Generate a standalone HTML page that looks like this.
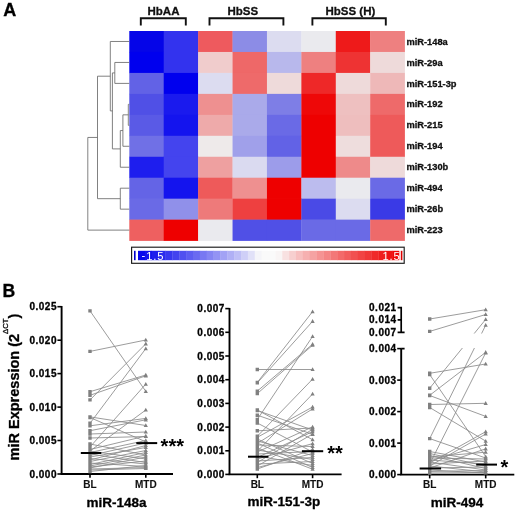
<!DOCTYPE html>
<html><head><meta charset="utf-8"><style>
html,body{margin:0;padding:0;background:#fff;}
svg{display:block;font-family:"Liberation Sans", sans-serif;will-change:transform;filter:blur(0.3px);}
</style></head><body>
<svg width="520" height="516" viewBox="0 0 520 516">
<rect width="520" height="516" fill="#fff"/>
<rect x="129.30" y="31.00" width="34.71" height="21.26" fill="#0505E8"/>
<rect x="163.71" y="31.00" width="34.71" height="21.26" fill="#3333EE"/>
<rect x="198.12" y="31.00" width="34.71" height="21.26" fill="#EE5A5E"/>
<rect x="232.54" y="31.00" width="34.71" height="21.26" fill="#8C8CE6"/>
<rect x="266.95" y="31.00" width="34.71" height="21.26" fill="#DCDCF0"/>
<rect x="301.36" y="31.00" width="34.71" height="21.26" fill="#EAEAEE"/>
<rect x="335.78" y="31.00" width="34.71" height="21.26" fill="#EE1A1A"/>
<rect x="370.19" y="31.00" width="34.71" height="21.26" fill="#EE8080"/>
<rect x="129.30" y="51.96" width="34.71" height="21.26" fill="#0000EE"/>
<rect x="163.71" y="51.96" width="34.71" height="21.26" fill="#3333EE"/>
<rect x="198.12" y="51.96" width="34.71" height="21.26" fill="#F0CCCC"/>
<rect x="232.54" y="51.96" width="34.71" height="21.26" fill="#EE6868"/>
<rect x="266.95" y="51.96" width="34.71" height="21.26" fill="#B8B8EC"/>
<rect x="301.36" y="51.96" width="34.71" height="21.26" fill="#EE8080"/>
<rect x="335.78" y="51.96" width="34.71" height="21.26" fill="#EE3333"/>
<rect x="370.19" y="51.96" width="34.71" height="21.26" fill="#EEDADA"/>
<rect x="129.30" y="72.92" width="34.71" height="21.26" fill="#6262E6"/>
<rect x="163.71" y="72.92" width="34.71" height="21.26" fill="#0000EE"/>
<rect x="198.12" y="72.92" width="34.71" height="21.26" fill="#DCDCF0"/>
<rect x="232.54" y="72.92" width="34.71" height="21.26" fill="#EE6A6A"/>
<rect x="266.95" y="72.92" width="34.71" height="21.26" fill="#EEDADA"/>
<rect x="301.36" y="72.92" width="34.71" height="21.26" fill="#EE2828"/>
<rect x="335.78" y="72.92" width="34.71" height="21.26" fill="#EEDADA"/>
<rect x="370.19" y="72.92" width="34.71" height="21.26" fill="#EEB8B8"/>
<rect x="129.30" y="93.88" width="34.71" height="21.26" fill="#5050E6"/>
<rect x="163.71" y="93.88" width="34.71" height="21.26" fill="#1A1AEE"/>
<rect x="198.12" y="93.88" width="34.71" height="21.26" fill="#EE9090"/>
<rect x="232.54" y="93.88" width="34.71" height="21.26" fill="#AAAAEA"/>
<rect x="266.95" y="93.88" width="34.71" height="21.26" fill="#7E7EE6"/>
<rect x="301.36" y="93.88" width="34.71" height="21.26" fill="#EE0808"/>
<rect x="335.78" y="93.88" width="34.71" height="21.26" fill="#EEC0C0"/>
<rect x="370.19" y="93.88" width="34.71" height="21.26" fill="#EE6A6A"/>
<rect x="129.30" y="114.84" width="34.71" height="21.26" fill="#5A5AE6"/>
<rect x="163.71" y="114.84" width="34.71" height="21.26" fill="#1414EE"/>
<rect x="198.12" y="114.84" width="34.71" height="21.26" fill="#EEAAAA"/>
<rect x="232.54" y="114.84" width="34.71" height="21.26" fill="#AAAAEA"/>
<rect x="266.95" y="114.84" width="34.71" height="21.26" fill="#6A6AE6"/>
<rect x="301.36" y="114.84" width="34.71" height="21.26" fill="#EE0000"/>
<rect x="335.78" y="114.84" width="34.71" height="21.26" fill="#EEBEBE"/>
<rect x="370.19" y="114.84" width="34.71" height="21.26" fill="#EE5A5A"/>
<rect x="129.30" y="135.80" width="34.71" height="21.26" fill="#7070E6"/>
<rect x="163.71" y="135.80" width="34.71" height="21.26" fill="#4444EE"/>
<rect x="198.12" y="135.80" width="34.71" height="21.26" fill="#EEEAEA"/>
<rect x="232.54" y="135.80" width="34.71" height="21.26" fill="#A0A0EA"/>
<rect x="266.95" y="135.80" width="34.71" height="21.26" fill="#6262E6"/>
<rect x="301.36" y="135.80" width="34.71" height="21.26" fill="#EE0000"/>
<rect x="335.78" y="135.80" width="34.71" height="21.26" fill="#EEDDDD"/>
<rect x="370.19" y="135.80" width="34.71" height="21.26" fill="#EE5A5A"/>
<rect x="129.30" y="156.76" width="34.71" height="21.26" fill="#1E1EEE"/>
<rect x="163.71" y="156.76" width="34.71" height="21.26" fill="#4444EE"/>
<rect x="198.12" y="156.76" width="34.71" height="21.26" fill="#EEA0A0"/>
<rect x="232.54" y="156.76" width="34.71" height="21.26" fill="#DADAF0"/>
<rect x="266.95" y="156.76" width="34.71" height="21.26" fill="#9C9CEA"/>
<rect x="301.36" y="156.76" width="34.71" height="21.26" fill="#EE0000"/>
<rect x="335.78" y="156.76" width="34.71" height="21.26" fill="#EE8A8A"/>
<rect x="370.19" y="156.76" width="34.71" height="21.26" fill="#EEDADA"/>
<rect x="129.30" y="177.72" width="34.71" height="21.26" fill="#6464E6"/>
<rect x="163.71" y="177.72" width="34.71" height="21.26" fill="#1414EE"/>
<rect x="198.12" y="177.72" width="34.71" height="21.26" fill="#EE5A5A"/>
<rect x="232.54" y="177.72" width="34.71" height="21.26" fill="#EE9090"/>
<rect x="266.95" y="177.72" width="34.71" height="21.26" fill="#EE0000"/>
<rect x="301.36" y="177.72" width="34.71" height="21.26" fill="#BCBCEE"/>
<rect x="335.78" y="177.72" width="34.71" height="21.26" fill="#EAEAEE"/>
<rect x="370.19" y="177.72" width="34.71" height="21.26" fill="#6A6AE6"/>
<rect x="129.30" y="198.68" width="34.71" height="21.26" fill="#6A6AE6"/>
<rect x="163.71" y="198.68" width="34.71" height="21.26" fill="#9090EA"/>
<rect x="198.12" y="198.68" width="34.71" height="21.26" fill="#EE7A7A"/>
<rect x="232.54" y="198.68" width="34.71" height="21.26" fill="#EE4040"/>
<rect x="266.95" y="198.68" width="34.71" height="21.26" fill="#EE0000"/>
<rect x="301.36" y="198.68" width="34.71" height="21.26" fill="#4A4AE6"/>
<rect x="335.78" y="198.68" width="34.71" height="21.26" fill="#DCDCF0"/>
<rect x="370.19" y="198.68" width="34.71" height="21.26" fill="#3A3AE6"/>
<rect x="129.30" y="219.64" width="34.71" height="21.26" fill="#EE6060"/>
<rect x="163.71" y="219.64" width="34.71" height="21.26" fill="#EE0000"/>
<rect x="198.12" y="219.64" width="34.71" height="21.26" fill="#EAEAEE"/>
<rect x="232.54" y="219.64" width="34.71" height="21.26" fill="#5050E6"/>
<rect x="266.95" y="219.64" width="34.71" height="21.26" fill="#5050E6"/>
<rect x="301.36" y="219.64" width="34.71" height="21.26" fill="#6A6AE6"/>
<rect x="335.78" y="219.64" width="34.71" height="21.26" fill="#6A6AE6"/>
<rect x="370.19" y="219.64" width="34.71" height="21.26" fill="#EE6A6A"/>
<text x="406.4" y="44.58" font-size="9.3" font-weight="bold" fill="#111" stroke="#111" stroke-width="0.3">miR-148a</text>
<text x="406.4" y="65.54" font-size="9.3" font-weight="bold" fill="#111" stroke="#111" stroke-width="0.3">miR-29a</text>
<text x="406.4" y="86.50" font-size="9.3" font-weight="bold" fill="#111" stroke="#111" stroke-width="0.3">miR-151-3p</text>
<text x="406.4" y="107.46" font-size="9.3" font-weight="bold" fill="#111" stroke="#111" stroke-width="0.3">miR-192</text>
<text x="406.4" y="128.42" font-size="9.3" font-weight="bold" fill="#111" stroke="#111" stroke-width="0.3">miR-215</text>
<text x="406.4" y="149.38" font-size="9.3" font-weight="bold" fill="#111" stroke="#111" stroke-width="0.3">miR-194</text>
<text x="406.4" y="170.34" font-size="9.3" font-weight="bold" fill="#111" stroke="#111" stroke-width="0.3">miR-130b</text>
<text x="406.4" y="191.30" font-size="9.3" font-weight="bold" fill="#111" stroke="#111" stroke-width="0.3">miR-494</text>
<text x="406.4" y="212.26" font-size="9.3" font-weight="bold" fill="#111" stroke="#111" stroke-width="0.3">miR-26b</text>
<text x="406.4" y="233.22" font-size="9.3" font-weight="bold" fill="#111" stroke="#111" stroke-width="0.3">miR-223</text>
<path d="M110.30 41.48L129.30 41.48 M114.80 62.44L129.30 62.44 M114.80 83.40L129.30 83.40 M114.80 62.44L114.80 83.40 M128.30 104.36L129.30 104.36 M128.30 125.32L129.30 125.32 M128.30 104.36L128.30 125.32 M122.90 114.84L128.30 114.84 M122.90 146.28L129.30 146.28 M122.90 114.84L122.90 146.28 M120.30 130.56L122.90 130.56 M120.30 167.24L129.30 167.24 M120.30 130.56L120.30 167.24 M112.40 72.92L114.80 72.92 M112.40 148.90L120.30 148.90 M112.40 72.92L112.40 148.90 M110.30 110.91L112.40 110.91 M110.30 41.48L110.30 110.91 M120.30 188.20L129.30 188.20 M120.30 209.16L129.30 209.16 M120.30 188.20L120.30 209.16 M97.50 76.19L110.30 76.19 M97.50 198.68L120.30 198.68 M97.50 76.19L97.50 198.68 M87.80 137.44L97.50 137.44 M87.80 230.12L129.30 230.12 M87.80 137.44L87.80 230.12" stroke="#6a6a6a" stroke-width="0.85" fill="none"/>
<path d="M140.8 25.4 V18.2 H185.8 V25.4" stroke="#111" stroke-width="1.9" fill="none"/>
<text x="163.5" y="15" font-size="11.5" font-weight="bold" fill="#111" text-anchor="middle" stroke="#111" stroke-width="0.3">HbAA</text>
<path d="M209.5 25.4 V18.2 H283.4 V25.4" stroke="#111" stroke-width="1.9" fill="none"/>
<text x="242.8" y="15" font-size="11.5" font-weight="bold" fill="#111" text-anchor="middle" stroke="#111" stroke-width="0.3">HbSS</text>
<path d="M312.4 25.4 V18.2 H385.8 V25.4" stroke="#111" stroke-width="1.9" fill="none"/>
<text x="350.4" y="15" font-size="11.5" font-weight="bold" fill="#111" text-anchor="middle" stroke="#111" stroke-width="0.3">HbSS (H)</text>
<text x="3.2" y="16.2" font-size="18" font-weight="bold" fill="#000" stroke="#000" stroke-width="0.3">A</text>
<text x="2.6" y="297.3" font-size="17.6" font-weight="bold" fill="#000" stroke="#000" stroke-width="0.3">B</text>
<rect x="131.6" y="247.2" width="272.6" height="16.1" fill="#fff" stroke="#1a1a1a" stroke-width="1.15"/>
<rect x="138.00" y="250.8" width="7.17" height="9.4" fill="rgb(6, 6, 236)"/>
<rect x="144.87" y="250.8" width="7.17" height="9.4" fill="rgb(18, 18, 237)"/>
<rect x="151.74" y="250.8" width="7.17" height="9.4" fill="rgb(30, 30, 237)"/>
<rect x="158.61" y="250.8" width="7.17" height="9.4" fill="rgb(42, 42, 238)"/>
<rect x="165.47" y="250.8" width="7.17" height="9.4" fill="rgb(55, 55, 239)"/>
<rect x="172.34" y="250.8" width="7.17" height="9.4" fill="rgb(67, 67, 239)"/>
<rect x="179.21" y="250.8" width="7.17" height="9.4" fill="rgb(80, 80, 240)"/>
<rect x="186.08" y="250.8" width="7.17" height="9.4" fill="rgb(93, 93, 241)"/>
<rect x="192.95" y="250.8" width="7.17" height="9.4" fill="rgb(106, 106, 241)"/>
<rect x="199.82" y="250.8" width="7.17" height="9.4" fill="rgb(120, 120, 242)"/>
<rect x="206.68" y="250.8" width="7.17" height="9.4" fill="rgb(133, 133, 243)"/>
<rect x="213.55" y="250.8" width="7.17" height="9.4" fill="rgb(147, 147, 244)"/>
<rect x="220.42" y="250.8" width="7.17" height="9.4" fill="rgb(162, 162, 245)"/>
<rect x="227.29" y="250.8" width="7.17" height="9.4" fill="rgb(176, 176, 245)"/>
<rect x="234.16" y="250.8" width="7.17" height="9.4" fill="rgb(191, 191, 246)"/>
<rect x="241.03" y="250.8" width="7.17" height="9.4" fill="rgb(207, 207, 247)"/>
<rect x="247.89" y="250.8" width="7.17" height="9.4" fill="rgb(225, 225, 248)"/>
<rect x="254.76" y="250.8" width="7.17" height="9.4" fill="rgb(245, 245, 249)"/>
<rect x="261.63" y="250.8" width="7.17" height="9.4" fill="rgb(250, 250, 250)"/>
<rect x="268.50" y="250.8" width="7.17" height="9.4" fill="rgb(250, 250, 250)"/>
<rect x="275.37" y="250.8" width="7.17" height="9.4" fill="rgb(249, 245, 245)"/>
<rect x="282.24" y="250.8" width="7.17" height="9.4" fill="rgb(248, 225, 225)"/>
<rect x="289.11" y="250.8" width="7.17" height="9.4" fill="rgb(247, 207, 207)"/>
<rect x="295.97" y="250.8" width="7.17" height="9.4" fill="rgb(247, 191, 191)"/>
<rect x="302.84" y="250.8" width="7.17" height="9.4" fill="rgb(246, 176, 176)"/>
<rect x="309.71" y="250.8" width="7.17" height="9.4" fill="rgb(245, 162, 162)"/>
<rect x="316.58" y="250.8" width="7.17" height="9.4" fill="rgb(245, 147, 147)"/>
<rect x="323.45" y="250.8" width="7.17" height="9.4" fill="rgb(244, 133, 133)"/>
<rect x="330.32" y="250.8" width="7.17" height="9.4" fill="rgb(243, 120, 120)"/>
<rect x="337.18" y="250.8" width="7.17" height="9.4" fill="rgb(243, 106, 106)"/>
<rect x="344.05" y="250.8" width="7.17" height="9.4" fill="rgb(242, 93, 93)"/>
<rect x="350.92" y="250.8" width="7.17" height="9.4" fill="rgb(241, 80, 80)"/>
<rect x="357.79" y="250.8" width="7.17" height="9.4" fill="rgb(241, 67, 67)"/>
<rect x="364.66" y="250.8" width="7.17" height="9.4" fill="rgb(240, 55, 55)"/>
<rect x="371.53" y="250.8" width="7.17" height="9.4" fill="rgb(240, 42, 42)"/>
<rect x="378.39" y="250.8" width="7.17" height="9.4" fill="rgb(239, 30, 30)"/>
<rect x="385.26" y="250.8" width="7.17" height="9.4" fill="rgb(238, 18, 18)"/>
<rect x="392.13" y="250.8" width="7.17" height="9.4" fill="rgb(238, 6, 6)"/>
<rect x="134.0" y="250.8" width="1.6" height="9.4" fill="#0000cc"/>
<rect x="400.8" y="250.8" width="1.6" height="9.4" fill="#dd0000"/>
<text x="141.6" y="259.8" font-size="11.2" fill="#fff" stroke="none" letter-spacing="0.9"><tspan dy="-0.9">-</tspan><tspan dy="0.9">1.5</tspan></text>
<text x="382.4" y="259.8" font-size="11.2" fill="#fff" stroke="none" letter-spacing="0.9">1.5</text>
<path d="M61.6 306.0 V474.0" stroke="#000" stroke-width="1.9" fill="none"/>
<path d="M57.4 306.7 H61.6" stroke="#000" stroke-width="1.6"/>
<text x="57.0" y="310.20" font-size="10" letter-spacing="0.5" font-weight="bold" text-anchor="end" fill="#000" stroke="#000" stroke-width="0.3">0.025</text>
<path d="M57.4 340.2 H61.6" stroke="#000" stroke-width="1.6"/>
<text x="57.0" y="343.70" font-size="10" letter-spacing="0.5" font-weight="bold" text-anchor="end" fill="#000" stroke="#000" stroke-width="0.3">0.020</text>
<path d="M57.4 373.6 H61.6" stroke="#000" stroke-width="1.6"/>
<text x="57.0" y="377.10" font-size="10" letter-spacing="0.5" font-weight="bold" text-anchor="end" fill="#000" stroke="#000" stroke-width="0.3">0.015</text>
<path d="M57.4 407.1 H61.6" stroke="#000" stroke-width="1.6"/>
<text x="57.0" y="410.60" font-size="10" letter-spacing="0.5" font-weight="bold" text-anchor="end" fill="#000" stroke="#000" stroke-width="0.3">0.010</text>
<path d="M57.4 440.5 H61.6" stroke="#000" stroke-width="1.6"/>
<text x="57.0" y="444.00" font-size="10" letter-spacing="0.5" font-weight="bold" text-anchor="end" fill="#000" stroke="#000" stroke-width="0.3">0.005</text>
<path d="M57.4 474.0 H61.6" stroke="#000" stroke-width="1.6"/>
<text x="57.0" y="477.50" font-size="10" letter-spacing="0.5" font-weight="bold" text-anchor="end" fill="#000" stroke="#000" stroke-width="0.3">0.000</text>
<path d="M60.65 474.0 H173.0" stroke="#000" stroke-width="1.9" fill="none"/>
<path d="M90.0 474.0 V477.8" stroke="#000" stroke-width="1.6"/>
<path d="M145.8 474.0 V477.8" stroke="#000" stroke-width="1.6"/>
<text x="90.0" y="488" font-size="10" font-weight="bold" text-anchor="middle" fill="#111" stroke="#111" stroke-width="0.12">BL</text>
<text x="145.8" y="488" font-size="10" font-weight="bold" text-anchor="middle" fill="#111" stroke="#111" stroke-width="0.12">MTD</text>
<path d="M90.0 310.9L145.8 391.4 M90.0 351.4L145.8 340.0 M90.0 391.7L145.8 375.0 M90.0 395.3L145.8 375.8 M90.0 399.9L145.8 343.8 M90.0 423.3L145.8 348.6 M90.0 447.0L145.8 384.1 M90.0 416.9L145.8 425.5 M90.0 417.5L145.8 441.8 M90.0 425.8L145.8 418.4 M90.0 430.7L145.8 419.8 M90.0 451.0L145.8 410.0 M90.0 434.0L145.8 432.0 M90.0 438.0L145.8 436.5 M90.0 444.0L145.8 455.0 M90.0 449.5L145.8 436.0 M90.0 451.0L145.8 459.0 M90.0 452.5L145.8 440.5 M90.0 454.0L145.8 462.5 M90.0 455.5L145.8 443.0 M90.0 457.0L145.8 447.5 M90.0 458.5L145.8 464.0 M90.0 460.0L145.8 445.5 M90.0 461.5L145.8 450.5 M90.0 463.0L145.8 466.5 M90.0 464.5L145.8 452.5 M90.0 466.0L145.8 455.0 M90.0 467.0L145.8 461.0 M90.0 468.0L145.8 457.0 M90.0 469.0L145.8 467.5 M90.0 470.0L145.8 468.5 M90.0 471.5L145.8 465.5" stroke="#8a8a8a" stroke-width="0.85" fill="none"/>
<path d="M88.3 309.2h3.4v3.4h-3.4z M88.3 349.7h3.4v3.4h-3.4z M88.3 390.0h3.4v3.4h-3.4z M88.3 393.6h3.4v3.4h-3.4z M88.3 398.2h3.4v3.4h-3.4z M88.3 421.6h3.4v3.4h-3.4z M88.3 445.3h3.4v3.4h-3.4z M88.3 415.2h3.4v3.4h-3.4z M88.3 415.8h3.4v3.4h-3.4z M88.3 424.1h3.4v3.4h-3.4z M88.3 429.0h3.4v3.4h-3.4z M88.3 449.3h3.4v3.4h-3.4z M88.3 432.3h3.4v3.4h-3.4z M88.3 436.3h3.4v3.4h-3.4z M88.3 442.3h3.4v3.4h-3.4z M88.3 447.8h3.4v3.4h-3.4z M88.3 449.3h3.4v3.4h-3.4z M88.3 450.8h3.4v3.4h-3.4z M88.3 452.3h3.4v3.4h-3.4z M88.3 453.8h3.4v3.4h-3.4z M88.3 455.3h3.4v3.4h-3.4z M88.3 456.8h3.4v3.4h-3.4z M88.3 458.3h3.4v3.4h-3.4z M88.3 459.8h3.4v3.4h-3.4z M88.3 461.3h3.4v3.4h-3.4z M88.3 462.8h3.4v3.4h-3.4z M88.3 464.3h3.4v3.4h-3.4z M88.3 465.3h3.4v3.4h-3.4z M88.3 466.3h3.4v3.4h-3.4z M88.3 467.3h3.4v3.4h-3.4z M88.3 468.3h3.4v3.4h-3.4z M88.3 469.8h3.4v3.4h-3.4z" fill="#808080"/>
<path d="M145.8 389.2l2.1 3.8h-4.2z M145.8 337.8l2.1 3.8h-4.2z M145.8 372.8l2.1 3.8h-4.2z M145.8 373.6l2.1 3.8h-4.2z M145.8 341.6l2.1 3.8h-4.2z M145.8 346.4l2.1 3.8h-4.2z M145.8 381.9l2.1 3.8h-4.2z M145.8 423.3l2.1 3.8h-4.2z M145.8 439.6l2.1 3.8h-4.2z M145.8 416.2l2.1 3.8h-4.2z M145.8 417.6l2.1 3.8h-4.2z M145.8 407.8l2.1 3.8h-4.2z M145.8 429.8l2.1 3.8h-4.2z M145.8 434.3l2.1 3.8h-4.2z M145.8 452.8l2.1 3.8h-4.2z M145.8 433.8l2.1 3.8h-4.2z M145.8 456.8l2.1 3.8h-4.2z M145.8 438.3l2.1 3.8h-4.2z M145.8 460.3l2.1 3.8h-4.2z M145.8 440.8l2.1 3.8h-4.2z M145.8 445.3l2.1 3.8h-4.2z M145.8 461.8l2.1 3.8h-4.2z M145.8 443.3l2.1 3.8h-4.2z M145.8 448.3l2.1 3.8h-4.2z M145.8 464.3l2.1 3.8h-4.2z M145.8 450.3l2.1 3.8h-4.2z M145.8 452.8l2.1 3.8h-4.2z M145.8 458.8l2.1 3.8h-4.2z M145.8 454.8l2.1 3.8h-4.2z M145.8 465.3l2.1 3.8h-4.2z M145.8 466.3l2.1 3.8h-4.2z M145.8 463.3l2.1 3.8h-4.2z" fill="#808080"/>
<path d="M80.8 453.0 H101.3" stroke="#000" stroke-width="2"/>
<path d="M136.3 443.1 H157.2" stroke="#000" stroke-width="2"/>
<text x="160.6" y="453.2" font-size="20" font-weight="bold" fill="#000" stroke="none">***</text>
<text x="86.6" y="506.6" font-size="13.5" font-weight="bold" fill="#000" stroke="#000" stroke-width="0.3">miR-148a</text>
<path d="M229.5 308.0 V474.3" stroke="#000" stroke-width="1.9" fill="none"/>
<path d="M225.3 308.6 H229.5" stroke="#000" stroke-width="1.6"/>
<text x="224.9" y="312.10" font-size="10" letter-spacing="0.5" font-weight="bold" text-anchor="end" fill="#000" stroke="#000" stroke-width="0.3">0.007</text>
<path d="M225.3 332.3 H229.5" stroke="#000" stroke-width="1.6"/>
<text x="224.9" y="335.80" font-size="10" letter-spacing="0.5" font-weight="bold" text-anchor="end" fill="#000" stroke="#000" stroke-width="0.3">0.006</text>
<path d="M225.3 356.0 H229.5" stroke="#000" stroke-width="1.6"/>
<text x="224.9" y="359.50" font-size="10" letter-spacing="0.5" font-weight="bold" text-anchor="end" fill="#000" stroke="#000" stroke-width="0.3">0.005</text>
<path d="M225.3 379.7 H229.5" stroke="#000" stroke-width="1.6"/>
<text x="224.9" y="383.20" font-size="10" letter-spacing="0.5" font-weight="bold" text-anchor="end" fill="#000" stroke="#000" stroke-width="0.3">0.004</text>
<path d="M225.3 403.4 H229.5" stroke="#000" stroke-width="1.6"/>
<text x="224.9" y="406.90" font-size="10" letter-spacing="0.5" font-weight="bold" text-anchor="end" fill="#000" stroke="#000" stroke-width="0.3">0.003</text>
<path d="M225.3 427.1 H229.5" stroke="#000" stroke-width="1.6"/>
<text x="224.9" y="430.60" font-size="10" letter-spacing="0.5" font-weight="bold" text-anchor="end" fill="#000" stroke="#000" stroke-width="0.3">0.002</text>
<path d="M225.3 450.8 H229.5" stroke="#000" stroke-width="1.6"/>
<text x="224.9" y="454.30" font-size="10" letter-spacing="0.5" font-weight="bold" text-anchor="end" fill="#000" stroke="#000" stroke-width="0.3">0.001</text>
<path d="M225.3 474.4 H229.5" stroke="#000" stroke-width="1.6"/>
<text x="224.9" y="477.90" font-size="10" letter-spacing="0.5" font-weight="bold" text-anchor="end" fill="#000" stroke="#000" stroke-width="0.3">0.000</text>
<path d="M228.55 474.4 H341.6" stroke="#000" stroke-width="1.9" fill="none"/>
<path d="M257.3 474.4 V478.2" stroke="#000" stroke-width="1.6"/>
<path d="M312.6 474.4 V478.2" stroke="#000" stroke-width="1.6"/>
<text x="257.3" y="488" font-size="10" font-weight="bold" text-anchor="middle" fill="#111" stroke="#111" stroke-width="0.12">BL</text>
<text x="312.6" y="488" font-size="10" font-weight="bold" text-anchor="middle" fill="#111" stroke="#111" stroke-width="0.12">MTD</text>
<path d="M257.3 369.5L312.6 369.5 M257.3 382.4L312.6 311.6 M257.3 382.9L312.6 321.3 M257.3 391.1L312.6 344.2 M257.3 393.6L312.6 345.2 M257.3 419.5L312.6 336.4 M257.3 410.5L312.6 430.0 M257.3 415.2L312.6 434.3 M257.3 410.0L312.6 439.7 M257.3 436.3L312.6 379.1 M257.3 451.3L312.6 394.0 M257.3 437.3L312.6 407.0 M257.3 443.4L312.6 408.9 M257.3 423.0L312.6 452.0 M257.3 430.8L312.6 428.0 M257.3 439.0L312.6 463.5 M257.3 441.0L312.6 455.5 M257.3 443.0L312.6 467.5 M257.3 445.0L312.6 446.5 M257.3 448.0L312.6 469.2 M257.3 450.0L312.6 459.5 M257.3 452.0L312.6 426.9 M257.3 454.0L312.6 451.5 M257.3 456.0L312.6 465.5 M257.3 457.5L312.6 431.6 M257.3 459.0L312.6 443.6 M257.3 461.0L312.6 457.5 M257.3 462.5L312.6 429.3 M257.3 464.0L312.6 461.5 M257.3 466.0L312.6 434.0 M257.3 467.5L312.6 453.5 M257.3 469.0L312.6 449.5" stroke="#8a8a8a" stroke-width="0.85" fill="none"/>
<path d="M255.6 367.8h3.4v3.4h-3.4z M255.6 380.7h3.4v3.4h-3.4z M255.6 381.2h3.4v3.4h-3.4z M255.6 389.4h3.4v3.4h-3.4z M255.6 391.9h3.4v3.4h-3.4z M255.6 417.8h3.4v3.4h-3.4z M255.6 408.8h3.4v3.4h-3.4z M255.6 413.5h3.4v3.4h-3.4z M255.6 408.3h3.4v3.4h-3.4z M255.6 434.6h3.4v3.4h-3.4z M255.6 449.6h3.4v3.4h-3.4z M255.6 435.6h3.4v3.4h-3.4z M255.6 441.7h3.4v3.4h-3.4z M255.6 421.3h3.4v3.4h-3.4z M255.6 429.1h3.4v3.4h-3.4z M255.6 437.3h3.4v3.4h-3.4z M255.6 439.3h3.4v3.4h-3.4z M255.6 441.3h3.4v3.4h-3.4z M255.6 443.3h3.4v3.4h-3.4z M255.6 446.3h3.4v3.4h-3.4z M255.6 448.3h3.4v3.4h-3.4z M255.6 450.3h3.4v3.4h-3.4z M255.6 452.3h3.4v3.4h-3.4z M255.6 454.3h3.4v3.4h-3.4z M255.6 455.8h3.4v3.4h-3.4z M255.6 457.3h3.4v3.4h-3.4z M255.6 459.3h3.4v3.4h-3.4z M255.6 460.8h3.4v3.4h-3.4z M255.6 462.3h3.4v3.4h-3.4z M255.6 464.3h3.4v3.4h-3.4z M255.6 465.8h3.4v3.4h-3.4z M255.6 467.3h3.4v3.4h-3.4z" fill="#808080"/>
<path d="M312.6 367.3l2.1 3.8h-4.2z M312.6 309.4l2.1 3.8h-4.2z M312.6 319.1l2.1 3.8h-4.2z M312.6 342.0l2.1 3.8h-4.2z M312.6 343.0l2.1 3.8h-4.2z M312.6 334.2l2.1 3.8h-4.2z M312.6 427.8l2.1 3.8h-4.2z M312.6 432.1l2.1 3.8h-4.2z M312.6 437.5l2.1 3.8h-4.2z M312.6 376.9l2.1 3.8h-4.2z M312.6 391.8l2.1 3.8h-4.2z M312.6 404.8l2.1 3.8h-4.2z M312.6 406.7l2.1 3.8h-4.2z M312.6 449.8l2.1 3.8h-4.2z M312.6 425.8l2.1 3.8h-4.2z M312.6 461.3l2.1 3.8h-4.2z M312.6 453.3l2.1 3.8h-4.2z M312.6 465.3l2.1 3.8h-4.2z M312.6 444.3l2.1 3.8h-4.2z M312.6 467.0l2.1 3.8h-4.2z M312.6 457.3l2.1 3.8h-4.2z M312.6 424.7l2.1 3.8h-4.2z M312.6 449.3l2.1 3.8h-4.2z M312.6 463.3l2.1 3.8h-4.2z M312.6 429.4l2.1 3.8h-4.2z M312.6 441.4l2.1 3.8h-4.2z M312.6 455.3l2.1 3.8h-4.2z M312.6 427.1l2.1 3.8h-4.2z M312.6 459.3l2.1 3.8h-4.2z M312.6 431.8l2.1 3.8h-4.2z M312.6 451.3l2.1 3.8h-4.2z M312.6 447.3l2.1 3.8h-4.2z" fill="#808080"/>
<path d="M248.0 456.7 H268.4" stroke="#000" stroke-width="2"/>
<path d="M301.9 451.2 H323.2" stroke="#000" stroke-width="2"/>
<text x="327.2" y="459.5" font-size="20" font-weight="bold" fill="#000" stroke="none">**</text>
<text x="247.5" y="505.8" font-size="13.5" font-weight="bold" fill="#000" stroke="#000" stroke-width="0.3">miR-151-3p</text>
<path d="M397.6 307.7 H401.2 V332.3 H404.6 M397.6 319.9 H401.2 M397.6 332.3 H401.2" stroke="#000" stroke-width="1.7" fill="none"/>
<text x="396.59999999999997" y="311.20" font-size="10" letter-spacing="0.5" font-weight="bold" text-anchor="end" fill="#000" stroke="#000" stroke-width="0.3">0.021</text>
<text x="396.59999999999997" y="323.40" font-size="10" letter-spacing="0.5" font-weight="bold" text-anchor="end" fill="#000" stroke="#000" stroke-width="0.3">0.014</text>
<text x="396.59999999999997" y="335.80" font-size="10" letter-spacing="0.5" font-weight="bold" text-anchor="end" fill="#000" stroke="#000" stroke-width="0.3">0.007</text>
<path d="M401.2 348.6 V474.6 M401.2 348.6 H404.6" stroke="#000" stroke-width="1.9" fill="none"/>
<path d="M397.2 348.6 H401.2" stroke="#000" stroke-width="1.6"/>
<text x="396.59999999999997" y="352.10" font-size="10" letter-spacing="0.5" font-weight="bold" text-anchor="end" fill="#000" stroke="#000" stroke-width="0.3">0.004</text>
<path d="M397.2 380.1 H401.2" stroke="#000" stroke-width="1.6"/>
<text x="396.59999999999997" y="383.60" font-size="10" letter-spacing="0.5" font-weight="bold" text-anchor="end" fill="#000" stroke="#000" stroke-width="0.3">0.003</text>
<path d="M397.2 411.6 H401.2" stroke="#000" stroke-width="1.6"/>
<text x="396.59999999999997" y="415.10" font-size="10" letter-spacing="0.5" font-weight="bold" text-anchor="end" fill="#000" stroke="#000" stroke-width="0.3">0.002</text>
<path d="M397.2 443.1 H401.2" stroke="#000" stroke-width="1.6"/>
<text x="396.59999999999997" y="446.60" font-size="10" letter-spacing="0.5" font-weight="bold" text-anchor="end" fill="#000" stroke="#000" stroke-width="0.3">0.001</text>
<path d="M397.2 474.6 H401.2" stroke="#000" stroke-width="1.6"/>
<text x="396.59999999999997" y="478.10" font-size="10" letter-spacing="0.5" font-weight="bold" text-anchor="end" fill="#000" stroke="#000" stroke-width="0.3">0.000</text>
<path d="M400.25 474.6 H514.3" stroke="#000" stroke-width="1.9" fill="none"/>
<path d="M429.7 474.6 V478.40000000000003" stroke="#000" stroke-width="1.6"/>
<path d="M485.7 474.6 V478.40000000000003" stroke="#000" stroke-width="1.6"/>
<text x="429.7" y="488" font-size="10" font-weight="bold" text-anchor="middle" fill="#111" stroke="#111" stroke-width="0.12">BL</text>
<text x="485.7" y="488" font-size="10" font-weight="bold" text-anchor="middle" fill="#111" stroke="#111" stroke-width="0.12">MTD</text>
<clipPath id="c3"><rect x="420" y="300" width="80" height="33.5"/><rect x="420" y="348" width="80" height="130"/></clipPath>
<path d="M429.7 319.0L485.7 309.7 M429.7 331.4L485.7 314.5 M429.7 388.2L485.7 319.4 M429.7 438.6L485.7 325.2 M429.7 373.3L485.7 364.0 M429.7 374.6L485.7 456.6 M429.7 395.3L485.7 352.3 M429.7 464.0L485.7 352.8 M429.7 395.5L485.7 416.4 M429.7 404.5L485.7 403.3 M429.7 407.5L485.7 441.1 M429.7 438.6L485.7 458.0 M429.7 463.0L485.7 431.7 M429.7 466.0L485.7 434.0 M429.7 461.0L485.7 444.5 M429.7 468.0L485.7 448.8 M429.7 457.0L485.7 452.2 M429.7 451.5L485.7 462.0 M429.7 453.5L485.7 466.0 M429.7 455.5L485.7 468.5 M429.7 458.0L485.7 459.0 M429.7 460.0L485.7 464.0 M429.7 462.0L485.7 470.0 M429.7 464.0L485.7 461.0 M429.7 466.0L485.7 472.0 M429.7 468.0L485.7 467.0 M429.7 470.0L485.7 473.0 M429.7 471.5L485.7 470.5 M429.7 473.0L485.7 472.5" stroke="#8a8a8a" stroke-width="0.85" fill="none" clip-path="url(#c3)"/>
<path d="M428.0 317.3h3.4v3.4h-3.4z M428.0 329.7h3.4v3.4h-3.4z M428.0 386.5h3.4v3.4h-3.4z M428.0 436.9h3.4v3.4h-3.4z M428.0 371.6h3.4v3.4h-3.4z M428.0 372.9h3.4v3.4h-3.4z M428.0 393.6h3.4v3.4h-3.4z M428.0 462.3h3.4v3.4h-3.4z M428.0 393.8h3.4v3.4h-3.4z M428.0 402.8h3.4v3.4h-3.4z M428.0 405.8h3.4v3.4h-3.4z M428.0 436.9h3.4v3.4h-3.4z M428.0 461.3h3.4v3.4h-3.4z M428.0 464.3h3.4v3.4h-3.4z M428.0 459.3h3.4v3.4h-3.4z M428.0 466.3h3.4v3.4h-3.4z M428.0 455.3h3.4v3.4h-3.4z M428.0 449.8h3.4v3.4h-3.4z M428.0 451.8h3.4v3.4h-3.4z M428.0 453.8h3.4v3.4h-3.4z M428.0 456.3h3.4v3.4h-3.4z M428.0 458.3h3.4v3.4h-3.4z M428.0 460.3h3.4v3.4h-3.4z M428.0 462.3h3.4v3.4h-3.4z M428.0 464.3h3.4v3.4h-3.4z M428.0 466.3h3.4v3.4h-3.4z M428.0 468.3h3.4v3.4h-3.4z M428.0 469.8h3.4v3.4h-3.4z M428.0 471.3h3.4v3.4h-3.4z" fill="#808080"/>
<path d="M485.7 307.5l2.1 3.8h-4.2z M485.7 312.3l2.1 3.8h-4.2z M485.7 317.2l2.1 3.8h-4.2z M485.7 323.0l2.1 3.8h-4.2z M485.7 361.8l2.1 3.8h-4.2z M485.7 454.4l2.1 3.8h-4.2z M485.7 350.1l2.1 3.8h-4.2z M485.7 350.6l2.1 3.8h-4.2z M485.7 414.2l2.1 3.8h-4.2z M485.7 401.1l2.1 3.8h-4.2z M485.7 438.9l2.1 3.8h-4.2z M485.7 455.8l2.1 3.8h-4.2z M485.7 429.5l2.1 3.8h-4.2z M485.7 431.8l2.1 3.8h-4.2z M485.7 442.3l2.1 3.8h-4.2z M485.7 446.6l2.1 3.8h-4.2z M485.7 450.0l2.1 3.8h-4.2z M485.7 459.8l2.1 3.8h-4.2z M485.7 463.8l2.1 3.8h-4.2z M485.7 466.3l2.1 3.8h-4.2z M485.7 456.8l2.1 3.8h-4.2z M485.7 461.8l2.1 3.8h-4.2z M485.7 467.8l2.1 3.8h-4.2z M485.7 458.8l2.1 3.8h-4.2z M485.7 469.8l2.1 3.8h-4.2z M485.7 464.8l2.1 3.8h-4.2z M485.7 470.8l2.1 3.8h-4.2z M485.7 468.3l2.1 3.8h-4.2z M485.7 470.3l2.1 3.8h-4.2z" fill="#808080"/>
<path d="M419.6 468.5 H441.1" stroke="#000" stroke-width="2"/>
<path d="M476.2 464.6 H497.0" stroke="#000" stroke-width="2"/>
<text x="500.6" y="474" font-size="20" font-weight="bold" fill="#000" stroke="none">*</text>
<text x="430.7" y="506.6" font-size="13.5" font-weight="bold" fill="#000" stroke="#000" stroke-width="0.3">miR-494</text>
<text transform="translate(19.4 460.4) rotate(-90)" font-size="14.5" font-weight="bold" fill="#000" stroke="#000" stroke-width="0.3">miR Expression (2<tspan font-size="7.7" font-weight="normal" dy="-11.8">ΔCT</tspan><tspan dy="11.8">)</tspan></text>
</svg>
</body></html>
